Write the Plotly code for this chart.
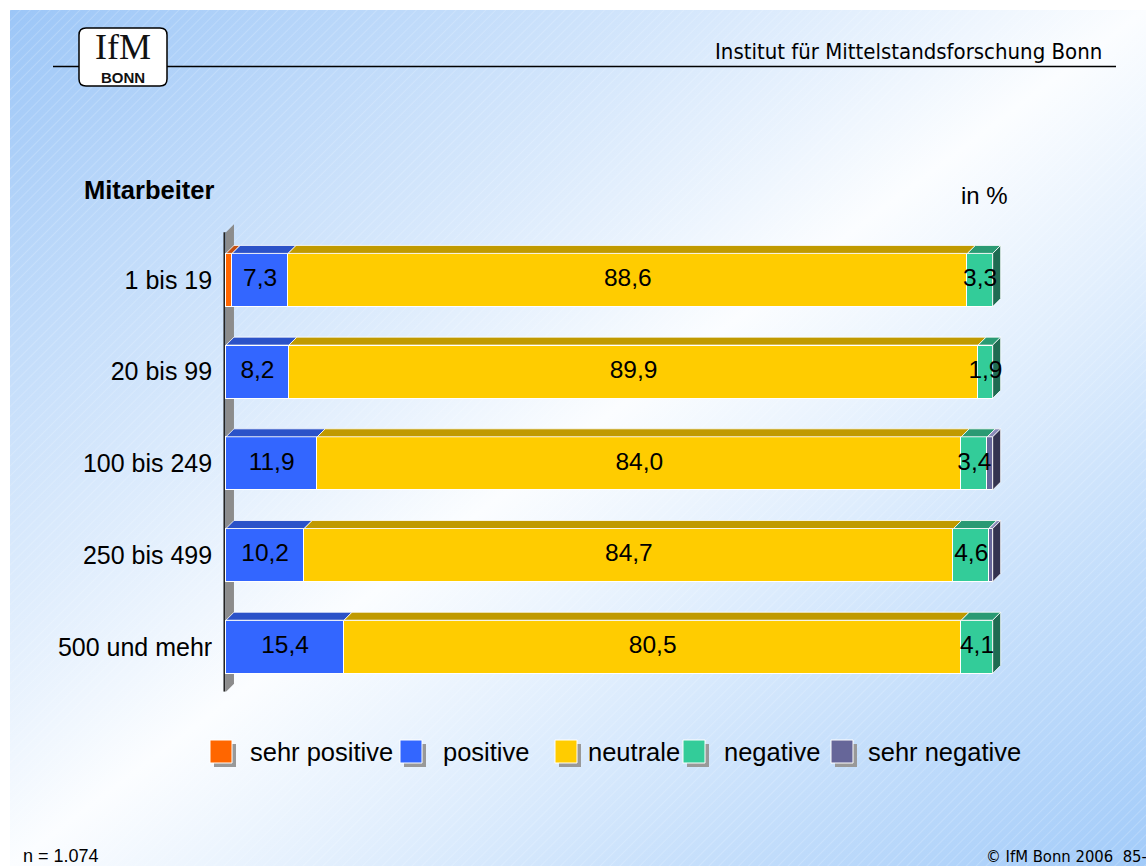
import base64
import plotly.graph_objects as go

# ---------------- data ----------------
categories = ["1 bis 19", "20 bis 99", "100 bis 249", "250 bis 499", "500 und mehr"]
series_names = ["sehr positive", "positive", "neutrale", "negative", "sehr negative"]
sehr_positive = [0.8, 0.0, 0.0, 0.0, 0.0]
positive = [7.3, 8.2, 11.9, 10.2, 15.4]
neutrale = [88.6, 89.9, 84.0, 84.7, 80.5]
negative = [3.3, 1.9, 3.4, 4.6, 4.1]
sehr_negative = [0.0, 0.0, 0.7, 0.5, 0.0]
show_labels = [False, True, True, True, False]

series = [sehr_positive, positive, neutrale, negative, sehr_negative]

# ---------------- style ----------------
W, H = 1146, 866
front = ["#FF6600", "#3366FF", "#FFCC00", "#33CC99", "#666699"]
top = ["#C45010", "#2B52C8", "#C09A00", "#2A9A73", "#8A8AB8"]
side = ["#8A3A00", "#1F3A90", "#8A6C00", "#1F6B52", "#33334F"]
BAR_W = 0.58
DX = 1.04   # depth in x data units (~8px)
DY = 0.087  # depth in y data units (~8px)
Y_TOP, Y_BOT = -0.52, 4.49
LABEL_FONT = "Liberation Sans, Arial, sans-serif"
TAHOMA = "DejaVu Sans Condensed, DejaVu Sans, sans-serif"

ypos = list(range(len(categories)))

fig = go.Figure()

# front faces (stacked bars)
for s, vals in enumerate(series):
    fig.add_trace(go.Bar(
        y=ypos, x=[v if v > 0 else None for v in vals], orientation="h",
        width=BAR_W, name=series_names[s], showlegend=False, hoverinfo="skip",
        marker=dict(color=front[s], line=dict(color="white", width=1)),
    ))

# top and side faces, label positions
label_x, label_y, label_t = [], [], []
for s, vals in enumerate(series):
    tx, ty = [], []
    sx, sy = [], []
    for r in ypos:
        base = sum(series[k][r] for k in range(s))
        v = vals[r]
        if v <= 0:
            continue
        x0, x1 = base, base + v
        yt = r - BAR_W / 2
        yb = r + BAR_W / 2
        tx += [x0, x1, x1 + DX, x0 + DX, x0, None]
        ty += [yt, yt, yt - DY, yt - DY, yt, None]
        last = all(series[k][r] <= 0 for k in range(s + 1, len(series)))
        if last:
            sx += [x1, x1 + DX, x1 + DX, x1, x1, None]
            sy += [yt, yt - DY, yb - DY, yb, yt, None]
        if show_labels[s]:
            label_x.append((x0 + x1) / 2)
            label_y.append(r)
            label_t.append(f"{v:.1f}".replace(".", ","))
    if tx:
        fig.add_trace(go.Scatter(x=tx, y=ty, mode="lines", fill="toself",
                                 fillcolor=top[s], line=dict(color="white", width=0.8),
                                 showlegend=False, hoverinfo="skip"))
    if sx:
        fig.add_trace(go.Scatter(x=sx, y=sy, mode="lines", fill="toself",
                                 fillcolor=side[s], line=dict(color="white", width=0.8),
                                 showlegend=False, hoverinfo="skip"))

fig.add_trace(go.Scatter(
    x=label_x, y=label_y, text=label_t, mode="text", cliponaxis=False,
    textfont=dict(family=LABEL_FONT, size=24.5, color="black"),
    showlegend=False, hoverinfo="skip"))

# ---------------- background image (gradient + hatching) ----------------
bw, bh = W - 10, H - 10
svg = f'''<svg xmlns="http://www.w3.org/2000/svg" width="{bw}" height="{bh}" viewBox="0 0 {bw} {bh}" preserveAspectRatio="none">
<defs>
<linearGradient id="g" x1="0" y1="0" x2="1" y2="1">
<stop offset="0" stop-color="#9cc6f7"/>
<stop offset="0.5" stop-color="#fbfdff"/>
<stop offset="1" stop-color="#a2cbf9"/>
</linearGradient>
<pattern id="p" width="7" height="7" patternUnits="userSpaceOnUse" patternTransform="rotate(45)">
<line x1="0" y1="0" x2="0" y2="7" stroke="#ffffff" stroke-width="1" stroke-opacity="0.35"/>
</pattern>
</defs>
<rect width="{bw}" height="{bh}" fill="url(#g)"/>
<rect width="{bw}" height="{bh}" fill="url(#p)"/>
</svg>'''
src = "data:image/svg+xml;base64," + base64.b64encode(svg.encode()).decode()


def px(x):
    return x / W


def py(y):
    return 1 - y / H


shapes = []
# axis wall (gray 3D side) and axis line
shapes.append(dict(type="path", xref="x", yref="y", layer="below",
                   path=f"M 0 {Y_TOP} L {DX} {Y_TOP - DY} L {DX} {Y_BOT - DY} L 0 {Y_BOT} Z",
                   fillcolor="#8C8C8C", line=dict(width=0)))
shapes.append(dict(type="line", xref="x", yref="y", layer="below",
                   x0=-0.2, x1=-0.2, y0=Y_TOP, y1=Y_BOT, line=dict(color="#222222", width=2)))
# header line
shapes.append(dict(type="line", xref="paper", yref="paper",
                   x0=px(53), x1=px(1116), y0=py(66.5), y1=py(66.5),
                   line=dict(color="black", width=1.5)))
# logo box (rounded)
lx0, lx1, ly0, ly1, rr = 79, 167, 28, 86, 7
path = (f"M {px(lx0 + rr)} {py(ly0)} L {px(lx1 - rr)} {py(ly0)} "
        f"Q {px(lx1)} {py(ly0)} {px(lx1)} {py(ly0 + rr)} L {px(lx1)} {py(ly1 - rr)} "
        f"Q {px(lx1)} {py(ly1)} {px(lx1 - rr)} {py(ly1)} L {px(lx0 + rr)} {py(ly1)} "
        f"Q {px(lx0)} {py(ly1)} {px(lx0)} {py(ly1 - rr)} L {px(lx0)} {py(ly0 + rr)} "
        f"Q {px(lx0)} {py(ly0)} {px(lx0 + rr)} {py(ly0)} Z")
shapes.append(dict(type="path", xref="paper", yref="paper", path=path,
                   fillcolor="white", line=dict(color="black", width=1.5)))

annotations = []
annotations.append(dict(text="IfM", x=px(123), y=py(47), xref="paper", yref="paper",
                        showarrow=False, xanchor="center", yanchor="middle",
                        font=dict(family="Liberation Serif, serif", size=36, color="#111111")))
annotations.append(dict(text="<b>BONN</b>", x=px(123), y=py(77), xref="paper", yref="paper",
                        showarrow=False, xanchor="center", yanchor="middle",
                        font=dict(family="Liberation Sans, Arial", size=15, color="#111111")))
annotations.append(dict(text="Institut für Mittelstandsforschung Bonn", x=px(1104), y=py(51),
                        xref="paper", yref="paper", showarrow=False, xanchor="right", yanchor="middle",
                        font=dict(family=TAHOMA, size=22, color="black")))
annotations.append(dict(text="<b>Mitarbeiter</b>", x=px(82), y=py(190), xref="paper", yref="paper",
                        showarrow=False, xanchor="left", yanchor="middle",
                        font=dict(family=LABEL_FONT, size=25.5, color="black")))
annotations.append(dict(text="in %", x=px(959), y=py(195), xref="paper", yref="paper",
                        showarrow=False, xanchor="left", yanchor="middle",
                        font=dict(family=LABEL_FONT, size=24, color="black")))
annotations.append(dict(text="n = 1.074", x=px(21), y=py(856), xref="paper", yref="paper",
                        showarrow=False, xanchor="left", yanchor="middle",
                        font=dict(family=LABEL_FONT, size=18, color="black")))
annotations.append(dict(text="© IfM Bonn 2006  85-", x=px(1149), y=py(856), xref="paper", yref="paper",
                        showarrow=False, xanchor="right", yanchor="middle",
                        font=dict(family=TAHOMA, size=16.5, color="black")))

# custom legend (swatches with shadow)
leg_sq_x = [210, 400, 555, 683, 831]
leg_tx_x = [248, 441, 586, 722, 866]
leg_y0, leg_y1 = 740, 763
for i, name in enumerate(series_names):
    x0 = leg_sq_x[i]
    shapes.append(dict(type="rect", xref="paper", yref="paper",
                       x0=px(x0 + 4), x1=px(x0 + 26), y0=py(leg_y0 + 4), y1=py(leg_y1 + 4),
                       fillcolor="#999999", line=dict(width=0)))
    shapes.append(dict(type="rect", xref="paper", yref="paper",
                       x0=px(x0), x1=px(x0 + 22), y0=py(leg_y0), y1=py(leg_y1),
                       fillcolor=front[i], line=dict(color="white", width=1)))
    annotations.append(dict(text=name, x=px(leg_tx_x[i]), y=py(752), xref="paper", yref="paper",
                            showarrow=False, xanchor="left", yanchor="middle",
                            font=dict(family=LABEL_FONT, size=25.5, color="black")))

x_lo, x_hi = -0.5, 101.6
x_px0 = 226 + x_lo * 7.667
x_px1 = 226 + x_hi * 7.667
y_rng = [Y_BOT, Y_TOP - DY - 0.02]
y_px_top = 280 + y_rng[1] * 91.7
y_px_bot = 280 + y_rng[0] * 91.7

fig.update_layout(
    width=W, height=H,
    margin=dict(l=0, r=0, t=0, b=0),
    paper_bgcolor="white", plot_bgcolor="rgba(0,0,0,0)",
    barmode="stack", bargap=0,
    showlegend=False,
    images=[dict(source=src, xref="paper", yref="paper", x=px(10), y=py(10),
                 sizex=bw / W, sizey=bh / H, xanchor="left", yanchor="top",
                 sizing="stretch", layer="below")],
    shapes=shapes,
    annotations=annotations,
    xaxis=dict(range=[x_lo, x_hi], domain=[px(x_px0), px(x_px1)], visible=False),
    yaxis=dict(range=y_rng, domain=[py(y_px_bot), py(y_px_top)],
               tickvals=ypos, ticktext=categories, ticks="", showgrid=False,
               zeroline=False, showline=False, ticklabelstandoff=9,
               tickfont=dict(family=LABEL_FONT, size=25, color="black")),
)

fig.write_html("out.html", config={"displayModeBar": False},
               post_script="document.body.style.margin='0';document.body.style.padding='0';")
